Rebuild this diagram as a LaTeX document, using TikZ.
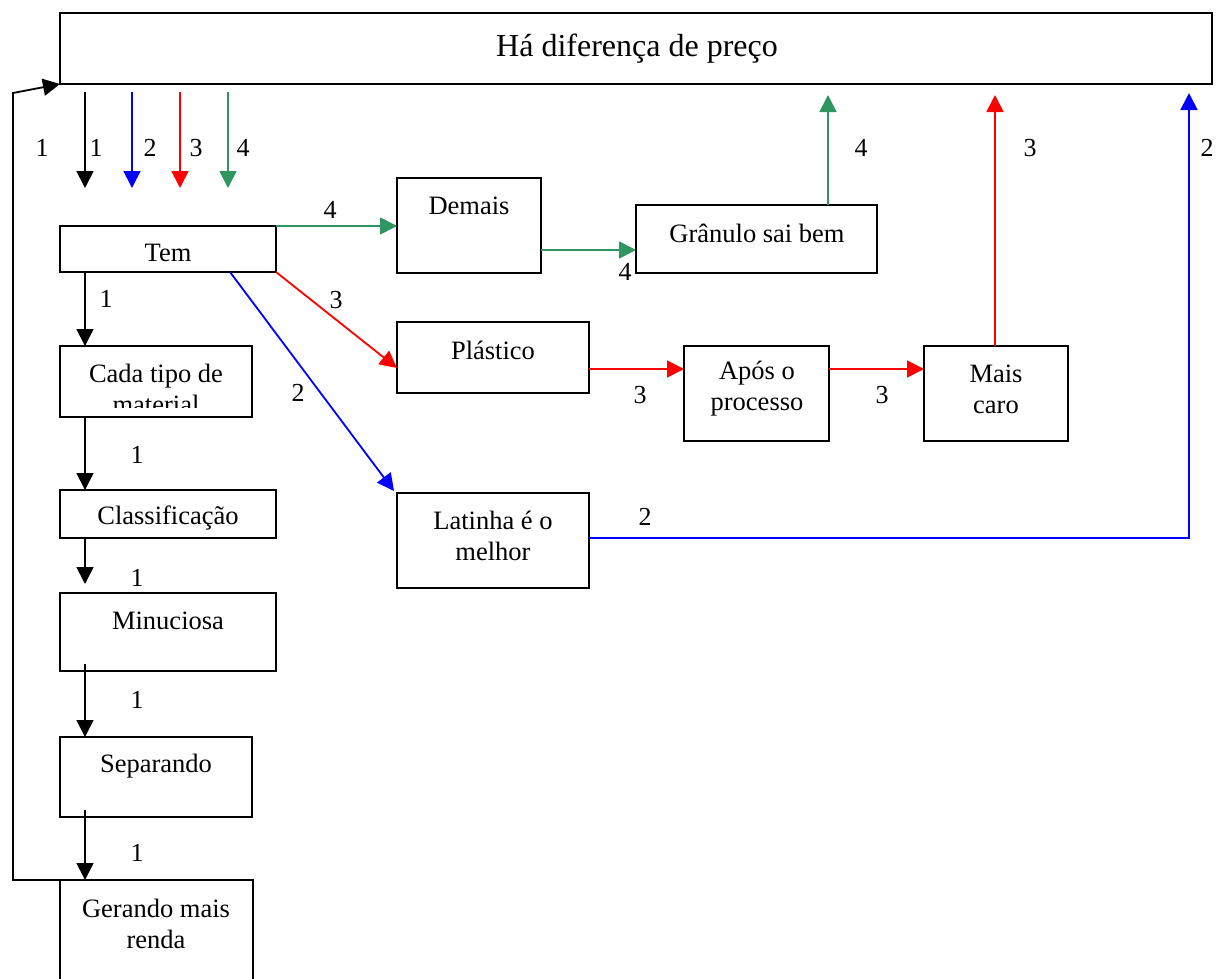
\documentclass[tikz,border=0pt]{standalone}
\usepackage{fontspec}
\setmainfont{Liberation Serif}
\usetikzlibrary{arrows.meta,calc}
\definecolor{lgreen}{RGB}{46,150,96}
\definecolor{lblue}{RGB}{0,0,255}
\definecolor{lred}{RGB}{255,0,0}
\tikzset{
  box/.style={draw, line width=1.9pt, inner sep=0pt, outer sep=0pt, anchor=north west},
  txt/.style={inner sep=0pt, align=center, font=\fontsize{26.5}{31}\selectfont},
  num/.style={inner sep=0pt, font=\fontsize{26}{30}\selectfont},
  link/.style={line width=1.8pt, -{Triangle[length=17pt,width=17pt]}},
}
\begin{document}
\begin{tikzpicture}[x=1pt,y=-1pt]
\useasboundingbox (0,0) rectangle (1216,978);

% boxes
\node[box, minimum width=1152, minimum height=71] (title) at (60,13) {};
\node[box, minimum width=216, minimum height=46] (tem) at (60,226) {};
\node[box, minimum width=192, minimum height=71] (cada) at (60,346) {};
\node[box, minimum width=216, minimum height=48] (class) at (60,490) {};
\node[box, minimum width=216, minimum height=78] (minu) at (60,593) {};
\node[box, minimum width=192, minimum height=80] (sep) at (60,737) {};
\node[box, minimum width=193, minimum height=120] (ger) at (60,880) {};
\node[box, minimum width=144, minimum height=95] (demais) at (397,178) {};
\node[box, minimum width=241, minimum height=68] (gran) at (636,205) {};
\node[box, minimum width=192, minimum height=71] (plast) at (397,322) {};
\node[box, minimum width=145, minimum height=95] (apos) at (684,346) {};
\node[box, minimum width=144, minimum height=95] (mais) at (924,346) {};
\node[box, minimum width=192, minimum height=95] (lat) at (397,493) {};

% box texts
\node[txt, font=\fontsize{32}{36}\selectfont] (title-t) at (637,49) {Há diferença de preço};
\node[txt] (tem-t) at (168,253) {Tem};
\begin{scope}
  \clip (60,346) rectangle (252,407);
  \node[txt] (cada-t) at (156,389) {Cada tipo de\\material};
\end{scope}
\node[txt] (class-t) at (168,518) {Classificação};
\node[txt] (minu-t) at (168,621) {Minuciosa};
\node[txt] (sep-t) at (156,766) {Separando};
\node[txt] (ger-t) at (156,924) {Gerando mais\\renda};
\node[txt] (demais-t) at (469,206) {Demais};
\node[txt] (gran-t) at (757,233) {Grânulo sai bem};
\node[txt] (plast-t) at (493,350) {Plástico};
\node[txt] (apos-t) at (757,389) {Após o\\processo};
\node[txt] (mais-t) at (996,389) {Mais\\caro};
\node[txt] (lat-t) at (493,536) {Latinha é o\\melhor};

% arrows leaving the title box
\draw[link] ($(title.south west)+(25,8)$) -- ($(tem.north west)+(25,-38)$);
\draw[link, lblue] ($(title.south west)+(72,8)$) -- ($(tem.north west)+(72,-38)$);
\draw[link, lred] ($(title.south west)+(120,8)$) -- ($(tem.north west)+(120,-38)$);
\draw[link, lgreen] ($(title.south west)+(168,8)$) -- ($(tem.north west)+(168,-38)$);

% main column
\draw[link] ($(tem.south west)+(25,0)$) -- ($(cada.north west)+(25,0)$);
\draw[link] ($(cada.south west)+(25,0)$) -- ($(class.north west)+(25,0)$);
\draw[link] ($(class.south west)+(25,0)$) -- ($(minu.north west)+(25,-9)$);
\draw[link] ($(minu.south west)+(25,-7)$) -- ($(sep.north west)+(25,0)$);
\draw[link] ($(sep.south west)+(25,-7)$) -- ($(ger.north west)+(25,0)$);

% feedback loop
\coordinate (fb1) at (13,880);
\coordinate (fb2) at (13,93);
\draw[link] (ger.north west) -- (fb1) -- (fb2) -- (title.south west);

% green path
\draw[link, lgreen] (tem.north east) -- (tem.north east -| demais.west);
\draw[link, lgreen] ($(demais.south east)+(0,-23)$) -- ($(demais.south east -| gran.west)+(0,-23)$);
\draw[link, lgreen] ($(gran.north west)+(192,0)$) -- ($(title.south west)+(768,11)$);

% red path
\draw[link, lred] (tem.south east) -- ($(plast.south west)+(0,-25)$);
\draw[link, lred] ($(plast.south east)+(0,-24)$) -- ($(apos.north west)+(0,23)$);
\draw[link, lred] ($(apos.north east)+(0,23)$) -- ($(mais.north west)+(0,23)$);
\draw[link, lred] ($(mais.north west)+(71,0)$) -- ($(title.south west)+(935,11)$);

% blue path
\draw[link, lblue] ($(tem.south east)+(-46,0)$) -- ($(lat.north west)+(-3,-2)$);
\coordinate (bc) at (1189,538);
\draw[link, lblue] ($(lat.north east)+(0,45)$) -- (bc) -- ($(title.south west)+(1129,9)$);

% numbers
\node[num] (n1) at (42,148) {1};
\node[num] (n2) at (96,148) {1};
\node[num] (n3) at (150,148) {2};
\node[num] (n4) at (196,148) {3};
\node[num] (n5) at (243,148) {4};
\node[num] (n6) at (106,299) {1};
\node[num] (n7) at (137,455) {1};
\node[num] (n8) at (137,578) {1};
\node[num] (n9) at (137,700) {1};
\node[num] (n10) at (137,853) {1};
\node[num] (n11) at (330,210) {4};
\node[num] (n12) at (625,272) {4};
\node[num] (n13) at (861,148) {4};
\node[num] (n14) at (1030,148) {3};
\node[num] (n15) at (1207,148) {2};
\node[num] (n16) at (336,300) {3};
\node[num] (n17) at (298,393) {2};
\node[num] (n18) at (640,395) {3};
\node[num] (n19) at (882,395) {3};
\node[num] (n20) at (645,517) {2};
\end{tikzpicture}
\end{document}
